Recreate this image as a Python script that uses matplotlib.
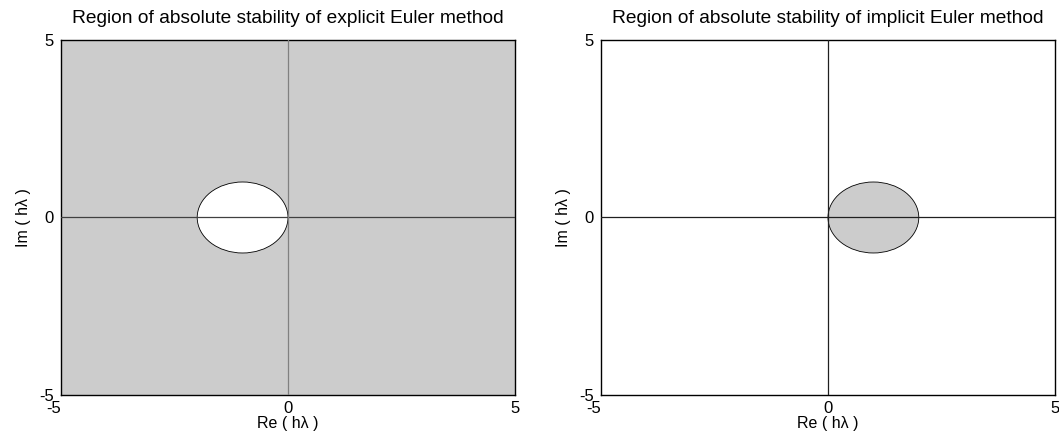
import matplotlib.pyplot as plt
from matplotlib.patches import Circle

plt.rcParams['font.family'] = ['Liberation Sans', 'DejaVu Sans']
plt.rcParams['font.size'] = 11.5
plt.rcParams['axes.unicode_minus'] = False

# stability regions: |1 + z| <= 1 (explicit), |1 - z| >= 1 (implicit)
titles = ["Region of absolute stability of explicit Euler method",
          "Region of absolute stability of implicit Euler method"]
centers = [-1, 1]
radius = 1
limits = [-5, 5]
ticks = [-5, 0, 5]

grey = (0.8, 0.8, 0.8)

fig = plt.figure(figsize=(10.59, 4.44), dpi=100)
ax1 = fig.add_axes([0.0576, 0.1104, 0.4287, 0.7995])
ax2 = fig.add_axes([0.5675, 0.1104, 0.4287, 0.7995])

# explicit: everything outside the disc is unstable -> grey background, white disc
ax1.set_facecolor(grey)
ax1.add_patch(Circle((centers[0], 0), radius, facecolor='white',
                     edgecolor='black', linewidth=0.6, zorder=2))
ax1.axhline(0, color='#404040', linewidth=0.9, zorder=3)
ax1.axvline(0, color='#808080', linewidth=0.9, zorder=3)

# implicit: stable outside the disc -> white background, grey disc
ax2.set_facecolor('white')
ax2.add_patch(Circle((centers[1], 0), radius, facecolor=grey,
                     edgecolor='black', linewidth=0.6, zorder=2))
ax2.axhline(0, color='#202020', linewidth=0.9, zorder=3)
ax2.axvline(0, color='#202020', linewidth=0.9, zorder=3)

for ax, title in zip([ax1, ax2], titles):
    ax.set_xlim(limits)
    ax.set_ylim(limits)
    ax.set_xticks(ticks)
    ax.set_yticks(ticks)
    ax.tick_params(axis='x', length=0, pad=4, labelsize=12)
    ax.tick_params(axis='y', length=0, pad=5, labelsize=12)
    ax.get_xticklabels()[0].set_ha('right')
    for s in ax.spines.values():
        s.set_linewidth(1.0)
    ax.set_title(title, pad=12)
    ax.set_xlabel("Re ( h\u03bb )", labelpad=0)
    ax.set_ylabel("Im ( h\u03bb )", labelpad=6)

plt.savefig("out.png", dpi=100)
